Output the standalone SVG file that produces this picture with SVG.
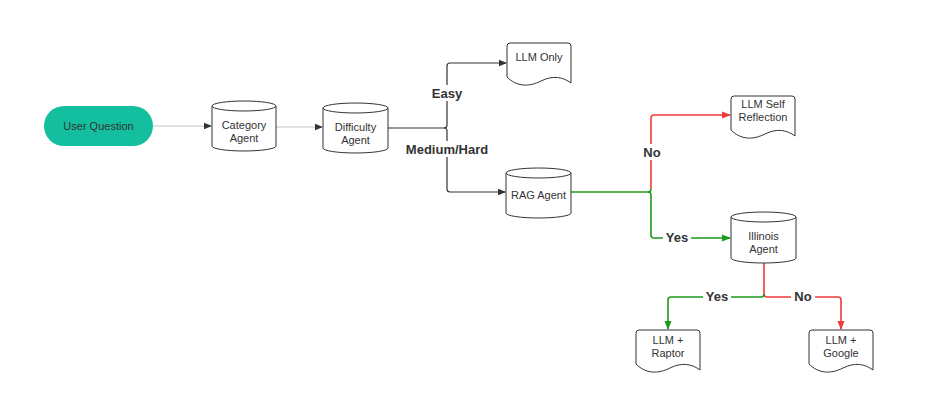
<svg xmlns="http://www.w3.org/2000/svg" width="936" height="402" viewBox="0 0 936 402">
<style>
.shape{fill:#fff;stroke:#333;stroke-width:1}
.t{font-family:"Liberation Sans",Arial,sans-serif;font-size:11px;fill:#333;text-anchor:middle}
.lbl{font-family:"Liberation Sans",Arial,sans-serif;font-size:13px;font-weight:bold;fill:#333;text-anchor:middle}
.c{fill:none;stroke-width:1.2}
.gray{stroke:#c4c4c4}
.dark{stroke:#333}
.green{stroke:#1e9a1e;stroke-width:1.6}
.red{stroke:#f03a3a;stroke-width:1.6}
.bg{fill:#fff}
</style>
<defs>
<marker id="aD" markerWidth="8" markerHeight="8" refX="7" refY="4" orient="auto" markerUnits="userSpaceOnUse"><path d="M0,0.8 L8,4 L0,7.2 Z" fill="#333"/></marker>
<marker id="aG" markerWidth="9" markerHeight="9" refX="8" refY="4.5" orient="auto" markerUnits="userSpaceOnUse"><path d="M0,1 L9,4.5 L0,8 Z" fill="#1e9a1e"/></marker>
<marker id="aR" markerWidth="9" markerHeight="9" refX="8" refY="4.5" orient="auto" markerUnits="userSpaceOnUse"><path d="M0,1 L9,4.5 L0,8 Z" fill="#f03a3a"/></marker>
<path id="doc" d="M3,0 H61 Q64,0 64,3 V40 C56,34 46,32 34,38 C22,44 10,44 0,34 V3 Q0,0 3,0 Z"/>
</defs>

<g id="connectors">
<path class="c gray" d="M153,126 H211" marker-end="url(#aD)"/>
<path class="c gray" d="M276,127 H322" marker-end="url(#aD)"/>
<path class="c dark" d="M388,128 H444 Q447,128 447,125 V66 Q447,63 450,63 H506" marker-end="url(#aD)"/>
<path class="c dark" d="M444,128 Q447,128 447,131 V189 Q447,192 450,192 H505" marker-end="url(#aD)"/>
<path class="c green" d="M571,192 H648 Q651,192 651,189"/>
<path class="c red" d="M651,189 V118 Q651,115 654,115 H730" marker-end="url(#aR)"/>
<path class="c green" d="M648,192 Q651,192 651,195 V235 Q651,238 654,238 H730" marker-end="url(#aG)"/>
<path class="c red" d="M764,263 V294 Q764,297 767,297 H838 Q841,297 841,300 V329" marker-end="url(#aR)"/>
<path class="c green" d="M764,294 Q764,297 761,297 H671 Q668,297 668,300 V329" marker-end="url(#aG)"/>
<rect class="bg" x="430" y="85" width="34" height="16"/>
<text class="lbl" x="447" y="98">Easy</text>
<rect class="bg" x="405" y="141" width="84" height="16"/>
<text class="lbl" x="447" y="154">Medium/Hard</text>
<rect class="bg" x="640" y="144" width="24" height="16"/>
<text class="lbl" x="652" y="157">No</text>
<rect class="bg" x="663" y="230" width="28" height="16"/>
<text class="lbl" x="677" y="242">Yes</text>
<rect class="bg" x="703" y="289" width="28" height="16"/>
<text class="lbl" x="717" y="301">Yes</text>
<rect class="bg" x="791" y="289" width="24" height="16"/>
<text class="lbl" x="803" y="301">No</text>
</g>

<g id="user-question">
<rect x="44" y="106" width="109" height="40" rx="20" ry="20" fill="#14bf9f"/>
<text class="t" x="98.5" y="130">User Question</text>
</g>

<g id="category-agent">
<path class="shape" d="M212,106 A32,5 0 0 1 276,106 V146 A32,5 0 0 1 212,146 Z"/>
<path class="shape" d="M212,106 A32,5 0 0 0 276,106"/>
<text class="t" x="244" y="129">Category</text>
<text class="t" x="244" y="142">Agent</text>
</g>

<g id="difficulty-agent">
<path class="shape" d="M323,108 A32.5,5 0 0 1 388,108 V148 A32.5,5 0 0 1 323,148 Z"/>
<path class="shape" d="M323,108 A32.5,5 0 0 0 388,108"/>
<text class="t" x="355.5" y="131">Difficulty</text>
<text class="t" x="355.5" y="144">Agent</text>
</g>

<g id="llm-only" transform="translate(507,43)">
<use href="#doc" class="shape"/>
<text class="t" x="32" y="18">LLM Only</text>
</g>

<g id="rag-agent">
<path class="shape" d="M506,173 A32.5,5 0 0 1 571,173 V213 A32.5,5 0 0 1 506,213 Z"/>
<path class="shape" d="M506,173 A32.5,5 0 0 0 571,173"/>
<text class="t" x="538.5" y="199">RAG Agent</text>
</g>

<g id="llm-self-reflection" transform="translate(731,96)">
<use href="#doc" class="shape"/>
<text class="t" x="32" y="12">LLM Self</text>
<text class="t" x="32" y="25">Reflection</text>
</g>

<g id="illinois-agent">
<path class="shape" d="M731,217 A32.5,5 0 0 1 796,217 V258 A32.5,5 0 0 1 731,258 Z"/>
<path class="shape" d="M731,217 A32.5,5 0 0 0 796,217"/>
<text class="t" x="763.5" y="240">Illinois</text>
<text class="t" x="763.5" y="253">Agent</text>
</g>

<g id="llm-raptor" transform="translate(636,330)">
<use href="#doc" class="shape"/>
<text class="t" x="32" y="14">LLM +</text>
<text class="t" x="32" y="27">Raptor</text>
</g>

<g id="llm-google" transform="translate(809,330)">
<use href="#doc" class="shape"/>
<text class="t" x="32" y="14">LLM +</text>
<text class="t" x="32" y="27">Google</text>
</g>
</svg>
